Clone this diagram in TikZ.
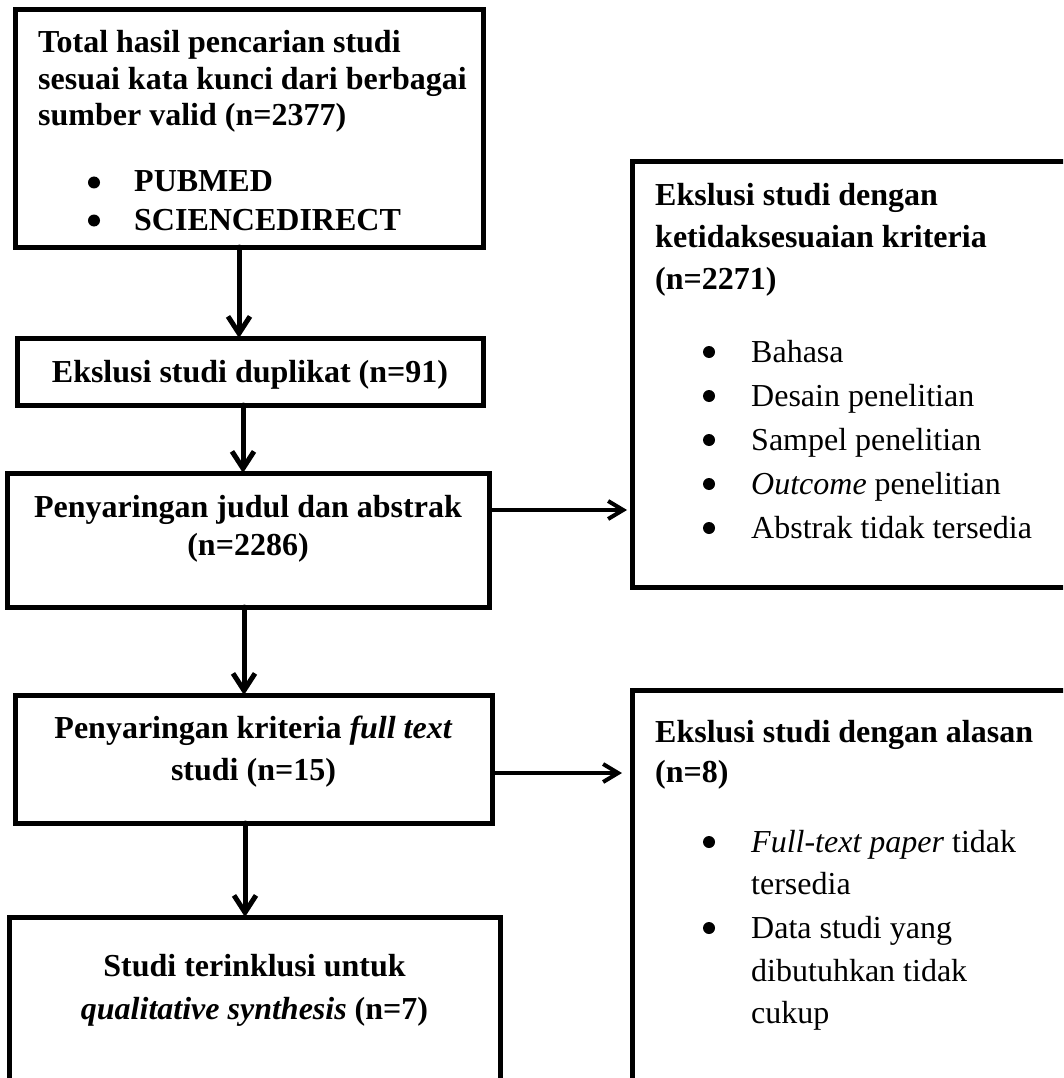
\documentclass[tikz,border=0pt]{standalone}
\usepackage{fontspec}
\setmainfont{Liberation Serif}
\usetikzlibrary{arrows.meta}
\begin{document}
\begin{tikzpicture}[x=1pt,y=-1pt,
  box/.style={draw, line width=5pt, rectangle, inner sep=0pt, outer sep=0pt},
  bl/.style={font=\fontsize{32}{38}\selectfont\bfseries, inner sep=0pt, anchor=base west},
  bc/.style={font=\fontsize{32}{38}\selectfont\bfseries, inner sep=0pt, anchor=base},
  rl/.style={font=\fontsize{32}{38}\selectfont, inner sep=0pt, anchor=base west},
  bdot/.style={circle, fill=black, inner sep=0pt, minimum size=12pt},
  varr/.style={line width=5pt, -{Straight Barb[length=17pt,width=22pt]}, line cap=round},
  harr/.style={line width=4pt, -{Straight Barb[length=15pt,width=18pt]}}
]
\useasboundingbox (0,0) rectangle (1063,1078);
\clip (0,0) rectangle (1063,1078);

% boxes
\node[box, minimum width=468pt, minimum height=237pt] (b1) at (249,128.5) {};
\node[box, minimum width=466pt, minimum height=67pt]  (b2) at (250,371.5) {};
\node[box, minimum width=482pt, minimum height=134pt] (b3) at (248,540) {};
\node[box, minimum width=477pt, minimum height=128pt] (b4) at (253.5,759) {};
\node[box, minimum width=491pt, minimum height=193pt] (b5) at (254.5,1013.5) {};
\node[box, minimum width=458pt, minimum height=425pt] (r1) at (861,374.5) {};
\node[box, minimum width=458pt, minimum height=420pt] (r2) at (861,900) {};

% box 1 text
\node[bl] (t1a) at (38,53) {Total hasil pencarian studi};
\node[bl] (t1b) at (38,89.5) {sesuai kata kunci dari berbagai};
\node[bl] (t1c) at (38,126) {sumber valid (n=2377)};
\node[bdot] (d1a) at (94,182.5) {};
\node[bl] (t1d) at (134,192) {PUBMED};
\node[bdot] (d1b) at (94,220.5) {};
\node[bl] (t1e) at (134,230) {SCIENCEDIRECT};

% box 2 text
\node[bc] (t2) at (250,382) {Ekslusi studi duplikat (n=91)};

% box 3 text
\node[bc] (t3a) at (248,517) {Penyaringan judul dan abstrak};
\node[bc] (t3b) at (248,555) {(n=2286)};

% box 4 text
\node[bc] (t4a) at (253.5,738) {Penyaringan kriteria \textit{full text}};
\node[bc] (t4b) at (253.5,780) {studi (n=15)};

% box 5 text
\node[bc] (t5a) at (254.5,976) {Studi terinklusi untuk};
\node[bc] (t5b) at (254.5,1019) {\textit{qualitative synthesis} (n=7)};

% right box 1 text
\node[bl] (r1a) at (655,205) {Ekslusi studi dengan};
\node[bl] (r1b) at (655,247) {ketidaksesuaian kriteria};
\node[bl] (r1c) at (655,289) {(n=2271)};
\node[bdot] (e1) at (709,352) {};
\node[rl] (r1d) at (751,362) {Bahasa};
\node[bdot] (e2) at (709,396) {};
\node[rl] (r1e) at (751,406) {Desain penelitian};
\node[bdot] (e3) at (709,440) {};
\node[rl] (r1f) at (751,450) {Sampel penelitian};
\node[bdot] (e4) at (709,484) {};
\node[rl] (r1g) at (751,494) {\textit{Outcome} penelitian};
\node[bdot] (e5) at (709,528) {};
\node[rl] (r1h) at (751,538) {Abstrak tidak tersedia};

% right box 2 text
\node[bl] (r2a) at (655,742) {Ekslusi studi dengan alasan};
\node[bl] (r2b) at (655,782) {(n=8)};
\node[bdot] (f1) at (709,842) {};
\node[rl] (r2c) at (751,852) {\textit{Full-text paper} tidak};
\node[rl] (r2d) at (751,894) {tersedia};
\node[bdot] (f2) at (709,928) {};
\node[rl] (r2e) at (751,938) {Data studi yang};
\node[rl] (r2f) at (751,981) {dibutuhkan tidak};
\node[rl] (r2g) at (751,1023) {cukup};

% connector guide coordinates
\coordinate (v1) at (239,0);
\coordinate (v2) at (243,0);
\coordinate (v3) at (244,0);
\coordinate (v4) at (245,0);
\coordinate (h1) at (0,510);
\coordinate (h2) at (0,773);

% connectors
\draw[varr] (v1 |- b1.south) -- (v1 |- b2.north);
\draw[varr] (v2 |- b2.south) -- (v2 |- b3.north);
\draw[varr] (v3 |- b3.south) -- (v3 |- b4.north);
\draw[varr] (v4 |- b4.south) -- (v4 |- b5.north);
\draw[harr, shorten >=5pt] (b3.east |- h1) -- (r1.west |- h1);
\draw[harr, shorten >=10pt, shorten <=-2pt] (b4.east |- h2) -- (r2.west |- h2);
\end{tikzpicture}
\end{document}
